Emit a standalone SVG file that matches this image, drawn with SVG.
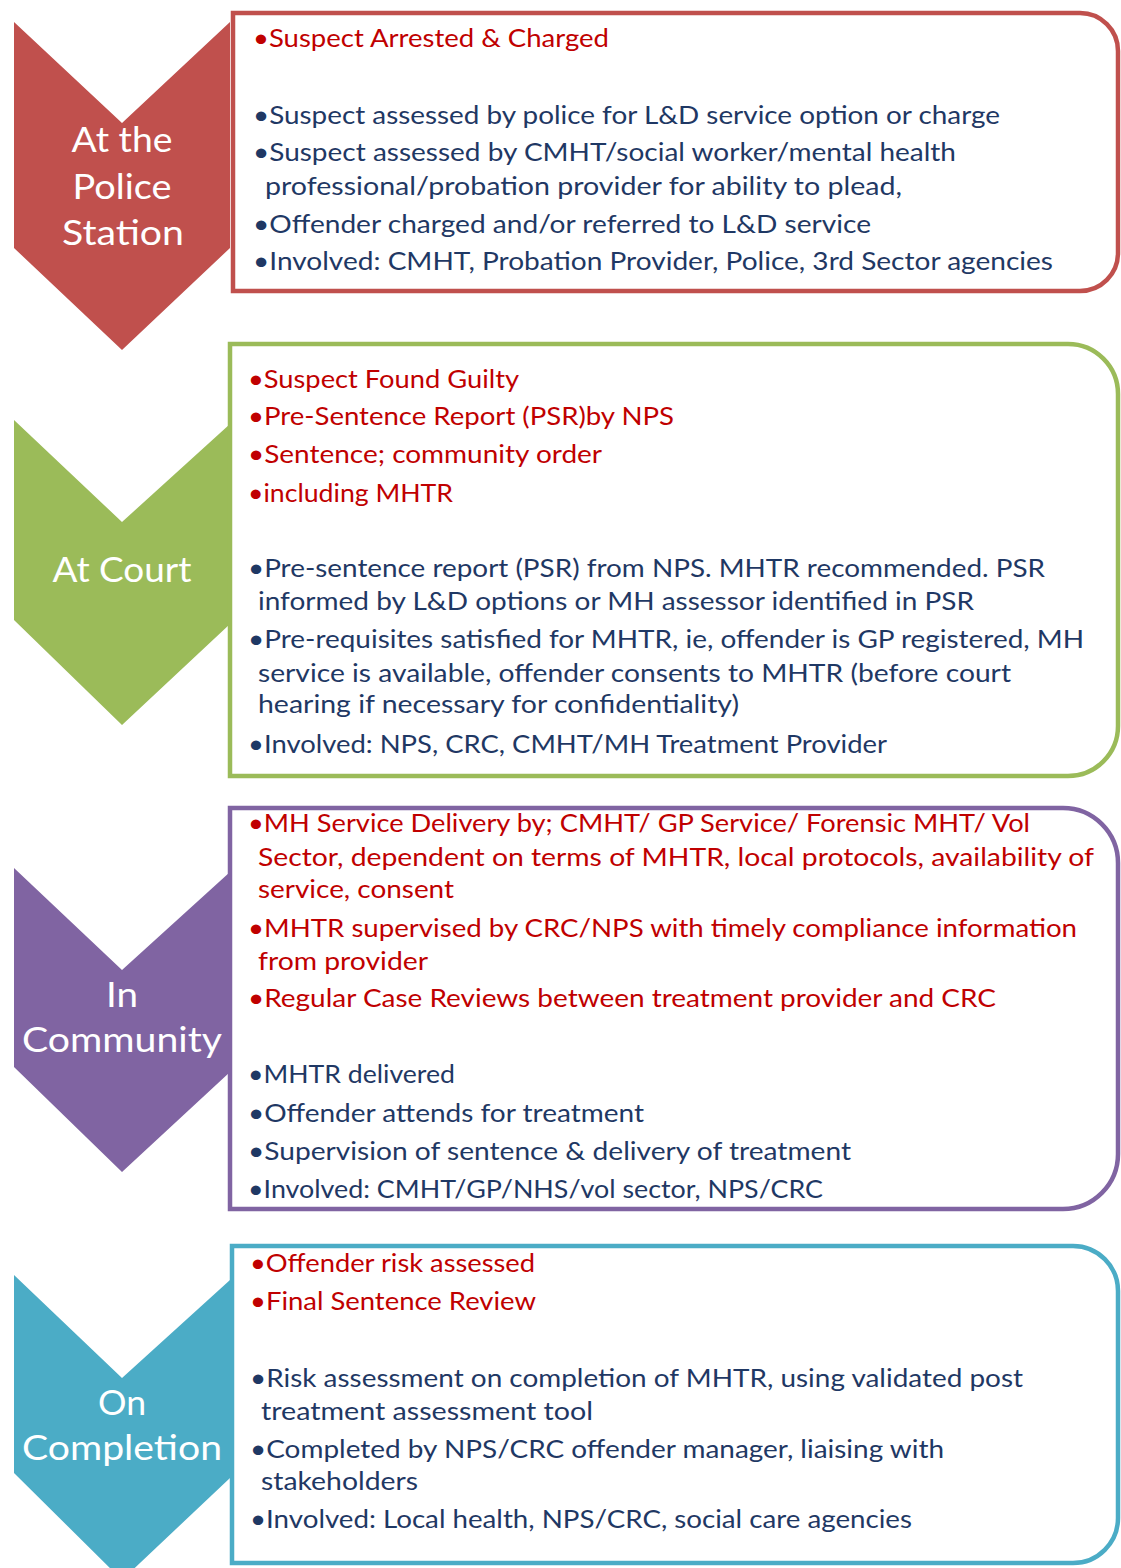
<svg xmlns="http://www.w3.org/2000/svg" width="1121" height="1568" viewBox="0 0 1121 1568">
<style>
.t{font-family:Lato,"Open Sans","Liberation Sans",sans-serif;font-size:25px}
.r{fill:#C00000}
.b{fill:#1F3864}
.lab{font-family:Lato,"Open Sans","Liberation Sans",sans-serif;font-size:34px;fill:#FFFFFF;text-anchor:middle}
.box{fill:#FFFFFF;stroke-width:4.5}
</style>
<rect width="1121" height="1568" fill="#FFFFFF"/>

<g id="stage1">
  <polygon points="14,22 122,123 230,22 230,248 122,350 14,248" fill="#C0504D"/>
  <text class="lab" x="122" y="152" textLength="101" lengthAdjust="spacingAndGlyphs">At the</text>
  <text class="lab" x="122" y="199" textLength="99" lengthAdjust="spacingAndGlyphs">Police</text>
  <text class="lab" x="123" y="245" textLength="122" lengthAdjust="spacingAndGlyphs">Station</text>
</g>
<g id="box1">
  <path class="box" stroke="#C0504D" d="M233,13 H1080 A38,38 0 0 1 1118,51 V253 A38,38 0 0 1 1080,291 H233 Z"/>
  <text class="t r" x="253" y="47" textLength="356" lengthAdjust="spacingAndGlyphs">•Suspect Arrested  &amp; Charged</text>
  <text class="t b" x="253" y="124" textLength="747" lengthAdjust="spacingAndGlyphs">•Suspect assessed by police for L&amp;D service option or charge</text>
  <text class="t b" x="253" y="161" textLength="703" lengthAdjust="spacingAndGlyphs">•Suspect assessed by CMHT/social worker/mental health</text>
  <text class="t b" x="265" y="195" textLength="637" lengthAdjust="spacingAndGlyphs">professional/probation provider for ability to plead,</text>
  <text class="t b" x="253" y="233" textLength="618" lengthAdjust="spacingAndGlyphs">•Offender charged and/or referred to L&amp;D service</text>
  <text class="t b" x="253" y="270" textLength="800" lengthAdjust="spacingAndGlyphs">•Involved: CMHT, Probation Provider, Police, 3rd Sector agencies</text>
</g>

<g id="stage2">
  <polygon points="14,420 122,522 230,424 230,624 122,725 14,620" fill="#9BBB59"/>
  <text class="lab" x="122" y="582" textLength="139" lengthAdjust="spacingAndGlyphs">At Court</text>
</g>
<g id="box2">
  <path class="box" stroke="#9BBB59" d="M230,344 H1068 A50,50 0 0 1 1118,394 V726 A50,50 0 0 1 1068,776 H230 Z"/>
  <text class="t r" x="248" y="388" textLength="271" lengthAdjust="spacingAndGlyphs">•Suspect Found Guilty</text>
  <text class="t r" x="248" y="425" textLength="426" lengthAdjust="spacingAndGlyphs">•Pre-Sentence Report (PSR)by NPS</text>
  <text class="t r" x="248" y="463" textLength="354" lengthAdjust="spacingAndGlyphs">•Sentence; community order</text>
  <text class="t r" x="248" y="502" textLength="205" lengthAdjust="spacingAndGlyphs">•including MHTR</text>
  <text class="t b" x="248" y="577" textLength="797" lengthAdjust="spacingAndGlyphs">•Pre-sentence report (PSR) from NPS. MHTR recommended. PSR</text>
  <text class="t b" x="258" y="610" textLength="716" lengthAdjust="spacingAndGlyphs">informed by L&amp;D options or MH assessor identified in PSR</text>
  <text class="t b" x="248" y="648" textLength="836" lengthAdjust="spacingAndGlyphs">•Pre-requisites satisfied for MHTR, ie, offender is GP registered,  MH</text>
  <text class="t b" x="258" y="682" textLength="753" lengthAdjust="spacingAndGlyphs">service is available, offender  consents to MHTR (before  court</text>
  <text class="t b" x="258" y="713" textLength="481" lengthAdjust="spacingAndGlyphs">hearing if necessary for confidentiality)</text>
  <text class="t b" x="248" y="753" textLength="639" lengthAdjust="spacingAndGlyphs">•Involved: NPS, CRC, CMHT/MH Treatment Provider</text>
</g>

<g id="stage3">
  <polygon points="14,868 122,970 230,872 230,1072 122,1172 14,1067" fill="#8064A2"/>
  <text class="lab" x="122" y="1007" textLength="32" lengthAdjust="spacingAndGlyphs">In</text>
  <text class="lab" x="122" y="1052" textLength="200" lengthAdjust="spacingAndGlyphs">Community</text>
</g>
<g id="box3">
  <path class="box" stroke="#8064A2" d="M230,808 H1063 A55,55 0 0 1 1118,863 V1154 A55,55 0 0 1 1063,1209 H230 Z"/>
  <text class="t r" x="248" y="832" textLength="782" lengthAdjust="spacingAndGlyphs">•MH Service Delivery by; CMHT/ GP Service/ Forensic MHT/ Vol</text>
  <text class="t r" x="258" y="866" textLength="836" lengthAdjust="spacingAndGlyphs">Sector, dependent on terms of MHTR, local protocols, availability of</text>
  <text class="t r" x="258" y="898" textLength="196" lengthAdjust="spacingAndGlyphs">service, consent</text>
  <text class="t r" x="248" y="937" textLength="829" lengthAdjust="spacingAndGlyphs">•MHTR supervised by CRC/NPS with timely compliance information</text>
  <text class="t r" x="258" y="970" textLength="170" lengthAdjust="spacingAndGlyphs">from provider</text>
  <text class="t r" x="248" y="1007" textLength="748" lengthAdjust="spacingAndGlyphs">•Regular Case Reviews between treatment provider and CRC</text>
  <text class="t b" x="248" y="1083" textLength="207" lengthAdjust="spacingAndGlyphs">•MHTR delivered</text>
  <text class="t b" x="248" y="1122" textLength="396" lengthAdjust="spacingAndGlyphs">•Offender attends for treatment</text>
  <text class="t b" x="248" y="1160" textLength="603" lengthAdjust="spacingAndGlyphs">•Supervision of sentence &amp; delivery of treatment</text>
  <text class="t b" x="248" y="1198" textLength="575" lengthAdjust="spacingAndGlyphs">•Involved: CMHT/GP/NHS/vol sector, NPS/CRC</text>
</g>

<g id="stage4">
  <polygon points="14,1275 122,1378 230,1280 230,1478 122,1580 14,1473" fill="#4BACC6"/>
  <text class="lab" x="122" y="1415" textLength="48" lengthAdjust="spacingAndGlyphs">On</text>
  <text class="lab" x="122" y="1460" textLength="200" lengthAdjust="spacingAndGlyphs">Completion</text>
</g>
<g id="box4">
  <path class="box" stroke="#4BACC6" d="M232,1246 H1073 A45,45 0 0 1 1118,1291 V1518 A45,45 0 0 1 1073,1563 H232 Z"/>
  <text class="t r" x="250" y="1272" textLength="285" lengthAdjust="spacingAndGlyphs">•Offender risk assessed</text>
  <text class="t r" x="250" y="1310" textLength="286" lengthAdjust="spacingAndGlyphs">•Final Sentence Review</text>
  <text class="t b" x="250" y="1387" textLength="773" lengthAdjust="spacingAndGlyphs">•Risk assessment on completion of MHTR, using validated post</text>
  <text class="t b" x="261" y="1420" textLength="332" lengthAdjust="spacingAndGlyphs">treatment assessment tool</text>
  <text class="t b" x="250" y="1458" textLength="694" lengthAdjust="spacingAndGlyphs">•Completed by NPS/CRC offender manager, liaising with</text>
  <text class="t b" x="261" y="1490" textLength="157" lengthAdjust="spacingAndGlyphs">stakeholders</text>
  <text class="t b" x="250" y="1528" textLength="662" lengthAdjust="spacingAndGlyphs">•Involved: Local health, NPS/CRC, social care agencies</text>
</g>

<g id="connectors"></g>
</svg>
